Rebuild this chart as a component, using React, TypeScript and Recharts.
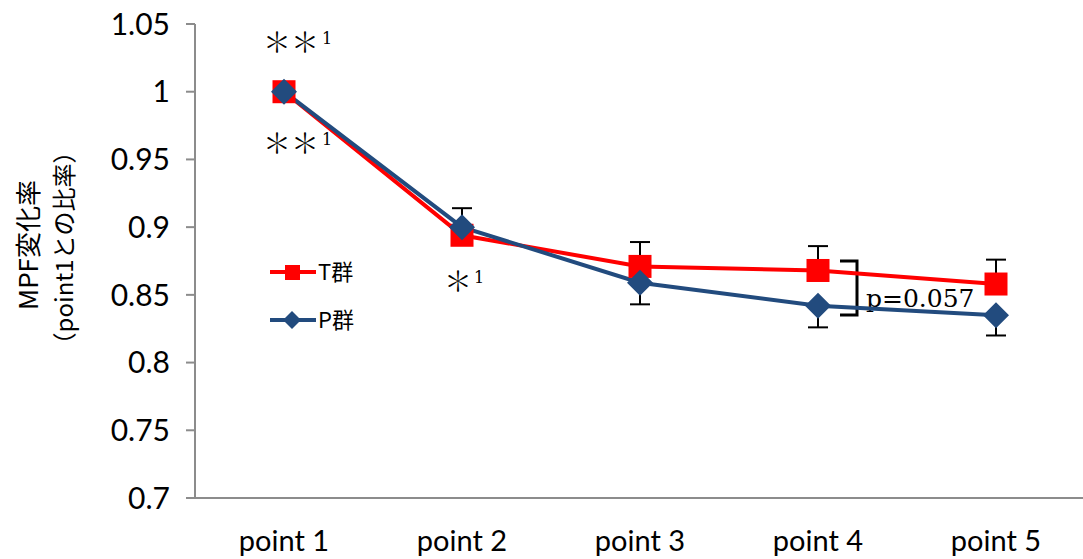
import React from 'react';
import { LineChart, Line, XAxis, YAxis, ErrorBar, Customized } from 'recharts';

const categories = ['point 1', 'point 2', 'point 3', 'point 4', 'point 5'];
const tGroup = [1.0, 0.894, 0.871, 0.868, 0.858];
const pGroup = [1.0, 0.9, 0.859, 0.842, 0.835];
const tErrUp = [0, 0.02, 0.018, 0.018, 0.018];
const pErrDown = [0, 0, 0.016, 0.016, 0.015];
const yTicks = [0.7, 0.75, 0.8, 0.85, 0.9, 0.95, 1.0, 1.05];
const boundaryTicks = [0.5, 1.5, 2.5, 3.5, 4.5, 5.5];

const data = categories.map((c, i) => ({
  x: i + 1,
  name: c,
  T: tGroup[i],
  P: pGroup[i],
  tErr: [0, tErrUp[i]],
  pErr: [pErrDown[i], 0],
}));

const RED = '#ff0000';
const BLUE = '#224b7e';
const AXIS = '#8c8c8c';
const tickFont = 'Lato, "Open Sans", sans-serif';
const cjk = '"Noto Sans CJK JP", sans-serif';
const mark = '"Noto Serif CJK JP", "Noto Sans CJK JP", serif';

const Square = (props: any) => {
  const { cx, cy } = props;
  return <rect x={cx - 11.5} y={cy - 11.5} width={23} height={23} fill={RED} />;
};

const Diamond = (props: any) => {
  const { cx, cy } = props;
  const r = 13;
  return <polygon points={`${cx},${cy - r} ${cx + r},${cy} ${cx},${cy + r} ${cx - r},${cy}`} fill={BLUE} />;
};

const Notes = () => (
  <g>
    {/* y axis title */}
    <text transform="translate(38,245) rotate(-90)" textAnchor="middle" fontSize={26} fontFamily={cjk} fill="#000">MPF変化率</text>
    <text transform="translate(73,248) rotate(-90)" textAnchor="middle" fontSize={24} fontFamily={cjk} fill="#000">（point1との比率）</text>

    {/* significance marks */}
    <text x={263} y={53} fontSize={28} fontFamily={mark} fill="#000">＊＊</text>
    <text x={322} y={44} fontSize={16} fontFamily='"DejaVu Serif", serif' fill="#000">1</text>
    <text x={263} y={154} fontSize={28} fontFamily={mark} fill="#000">＊＊</text>
    <text x={322} y={145} fontSize={16} fontFamily='"DejaVu Serif", serif' fill="#000">1</text>
    <text x={444} y={292} fontSize={28} fontFamily={mark} fill="#000">＊</text>
    <text x={474} y={283} fontSize={16} fontFamily='"DejaVu Serif", serif' fill="#000">1</text>

    {/* bracket p value */}
    <path d="M840,261 L857,261 L857,315 L840,315" fill="none" stroke="#000" strokeWidth={3} />
    <text x={866} y={307} fontSize={25} fontFamily='"DejaVu Serif", "Liberation Serif", serif' fill="#000">p=0.057</text>

    {/* legend */}
    <line x1={270} y1={272} x2={316} y2={272} stroke={RED} strokeWidth={4} />
    <rect x={285} y={265} width={15} height={15} fill={RED} />
    <text x={318} y={280} fontSize={22} fontFamily={cjk} fill="#000">T群</text>
    <line x1={270} y1={320} x2={316} y2={320} stroke={BLUE} strokeWidth={4} />
    <polygon points="292,311 301,320 292,329 283,320" fill={BLUE} />
    <text x={318} y={328} fontSize={22} fontFamily={cjk} fill="#000">P群</text>
  </g>
);

export default function App() {
  return (
    <div style={{ position: 'absolute', left: 0, top: 0, width: 1083, height: 559, background: '#fff' }}>
      <LineChart width={1083} height={559} data={data} margin={{ top: 24, right: -2, left: 0, bottom: 0 }}>
        <XAxis
          xAxisId="b"
          dataKey="x"
          type="number"
          domain={[0.5, 5.5]}
          ticks={boundaryTicks}
          tick={false}
          height={12}
          stroke={AXIS}
          strokeWidth={2}
          tickSize={11}
          allowDataOverflow
        />
        <XAxis
          xAxisId="l"
          dataKey="x"
          type="number"
          domain={[0.5, 5.5]}
          ticks={[1, 2, 3, 4, 5]}
          tickFormatter={(v: number) => categories[v - 1]}
          axisLine={false}
          tickLine={false}
          height={49}
          tick={{ fontSize: 29, fill: '#000', fontFamily: tickFont, dy: 12 }}
        />
        <YAxis
          domain={[0.7, 1.05]}
          ticks={yTicks}
          width={195}
          stroke={AXIS}
          strokeWidth={2}
          tickSize={9}
          interval={0}
          allowDataOverflow
          tickFormatter={(v: number) => String(Number(v.toFixed(2)))}
          tick={{ fontSize: 30, fill: '#000', fontFamily: tickFont, dx: -14 }}
        />
        <Line
          xAxisId="b"
          dataKey="T"
          stroke={RED}
          strokeWidth={4}
          dot={<Square />}
          activeDot={false}
          isAnimationActive={false}
        >
          <ErrorBar dataKey="tErr" direction="y" width={10} stroke="#000" strokeWidth={2} isAnimationActive={false} />
        </Line>
        <Line
          xAxisId="b"
          dataKey="P"
          stroke={BLUE}
          strokeWidth={4}
          dot={<Diamond />}
          activeDot={false}
          isAnimationActive={false}
        >
          <ErrorBar dataKey="pErr" direction="y" width={10} stroke="#000" strokeWidth={2} isAnimationActive={false} />
        </Line>
        <Customized component={Notes} />
      </LineChart>
    </div>
  );
}
